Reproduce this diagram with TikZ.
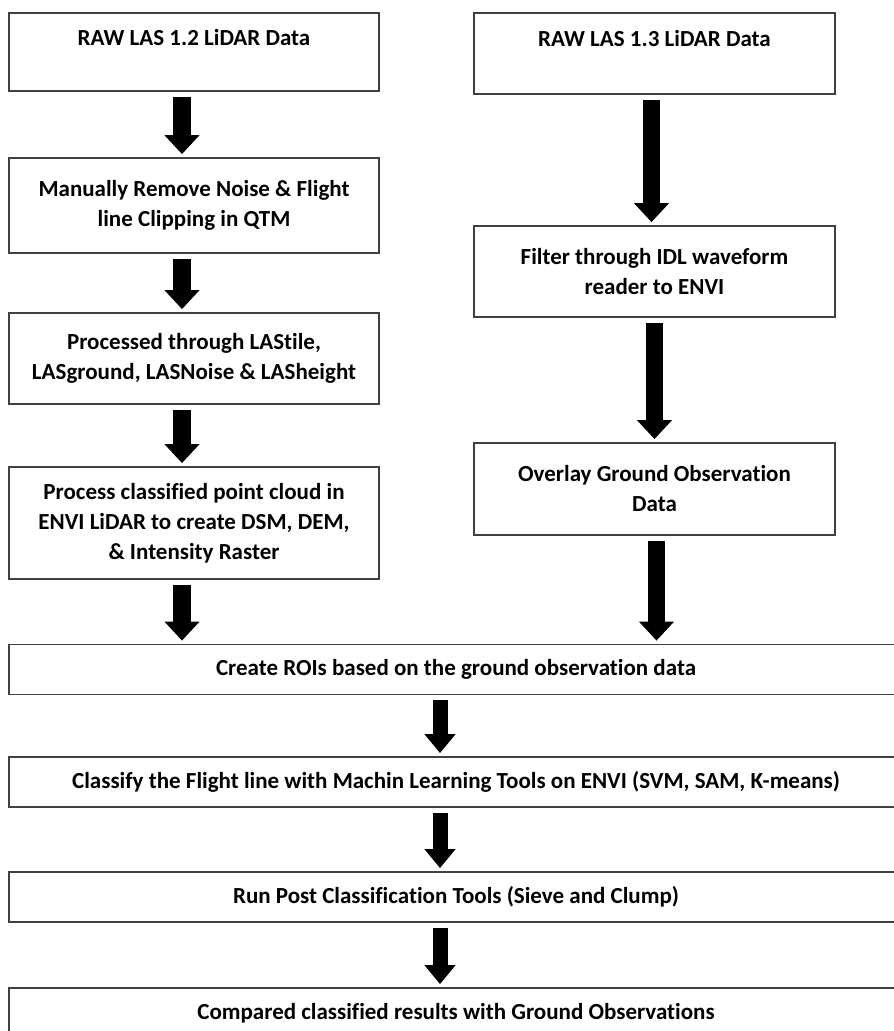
\documentclass[tikz,border=0pt]{standalone}
\usepackage{fontspec}
\setmainfont[RawFeature={-liga;-clig;-calt;-dlig;-rlig}]{Carlito}
\usetikzlibrary{arrows.meta,positioning}
\tikzset{
  every node/.style={
    font=\bfseries\fontsize{23}{30}\selectfont
  },
  stepbox/.style={
    shape=rectangle,
    draw=black!75,
    line width=1.8pt,
    align=center,
    inner sep=0pt
  },
  leftbox/.style={
    stepbox,
    minimum width=370pt,
    minimum height=#1
  },
  rightbox/.style={
    stepbox,
    minimum width=361pt,
    minimum height=#1
  },
  widebox/.style={
    stepbox,
    minimum width=894pt,
    minimum height=50pt
  },
  fatarrow/.style n args={2}{
    draw=black,
    line width=#1,
    -{Triangle[width=#2,length=19pt]},
    shorten <=5pt,
    shorten >=3pt
  }
}

\begin{document}
\begin{tikzpicture}[x=1pt,y=-1pt]
\useasboundingbox (0,0) rectangle (894,1031);
\clip (0,0) rectangle (894,1031);

% left column
\node [leftbox=78pt] (las12) at (194,52) {RAW LAS 1.2 LiDAR Data\\~};
\node [leftbox=95pt] (noise) at (194,205.5)
  {Manually Remove Noise \& Flight\\line Clipping in QTM};
\node [leftbox=91pt] (lastools) at (194,358.5)
  {Processed through LAStile,\\LASground, LASNoise \& LASheight};
\node [leftbox=112pt] (raster) at (194,523)
  {Process classified point cloud in\\ENVI LiDAR to create DSM, DEM,\\\& Intensity Raster};

% right column
\node [rightbox=81pt] (las13) at (654.5,53.5) {RAW LAS 1.3 LiDAR Data\\~};
\node [rightbox=91pt] (idl) at (654.5,271.5)
  {Filter through IDL waveform\\reader to ENVI};
\node [rightbox=92pt] (overlay) at (654.5,489)
  {Overlay Ground Observation\\Data};

% common steps
\node [widebox] (roi) at (456,669.5)
  {Create ROIs based on the ground observation data};
\node [widebox] (classify) at (456,782)
  {Classify the Flight line with Machin Learning Tools on ENVI (SVM, SAM, K-means)};
\node [widebox] (post) at (456,897)
  {Run Post Classification Tools (Sieve and Clump)};
\node [widebox] (compare) at (456,1013)
  {Compared classified results with Ground Observations};

\coordinate (l4) at ([xshift=-12pt]raster.south);
\coordinate (r3) at ([xshift=2pt]overlay.south);

\draw [fatarrow={18pt}{34pt}] ([xshift=-12pt]las12.south) -- ([xshift=-12pt]noise.north);
\draw [fatarrow={18pt}{34pt}] ([xshift=-12pt]noise.south) -- ([xshift=-12pt]lastools.north);
\draw [fatarrow={18pt}{34pt}] ([xshift=-12pt]lastools.south) -- ([xshift=-12pt]raster.north);
\draw [fatarrow={18pt}{34pt}] (l4) -- (l4 |- roi.north);

\draw [fatarrow={17pt}{34pt}] ([xshift=-3pt]las13.south) -- ([xshift=-3pt]idl.north);
\draw [fatarrow={17pt}{34pt}] (idl.south) -- (overlay.north);
\draw [fatarrow={17pt}{34pt}] (r3) -- (r3 |- roi.north);

\draw [fatarrow={15pt}{30pt}] ([xshift=-16pt]roi.south) -- ([xshift=-16pt]classify.north);
\draw [fatarrow={15pt}{30pt}] ([xshift=-16pt]classify.south) -- ([xshift=-16pt]post.north);
\draw [fatarrow={15pt}{30pt}] ([xshift=-16pt]post.south) -- ([xshift=-16pt]compare.north);

\end{tikzpicture}
\end{document}
